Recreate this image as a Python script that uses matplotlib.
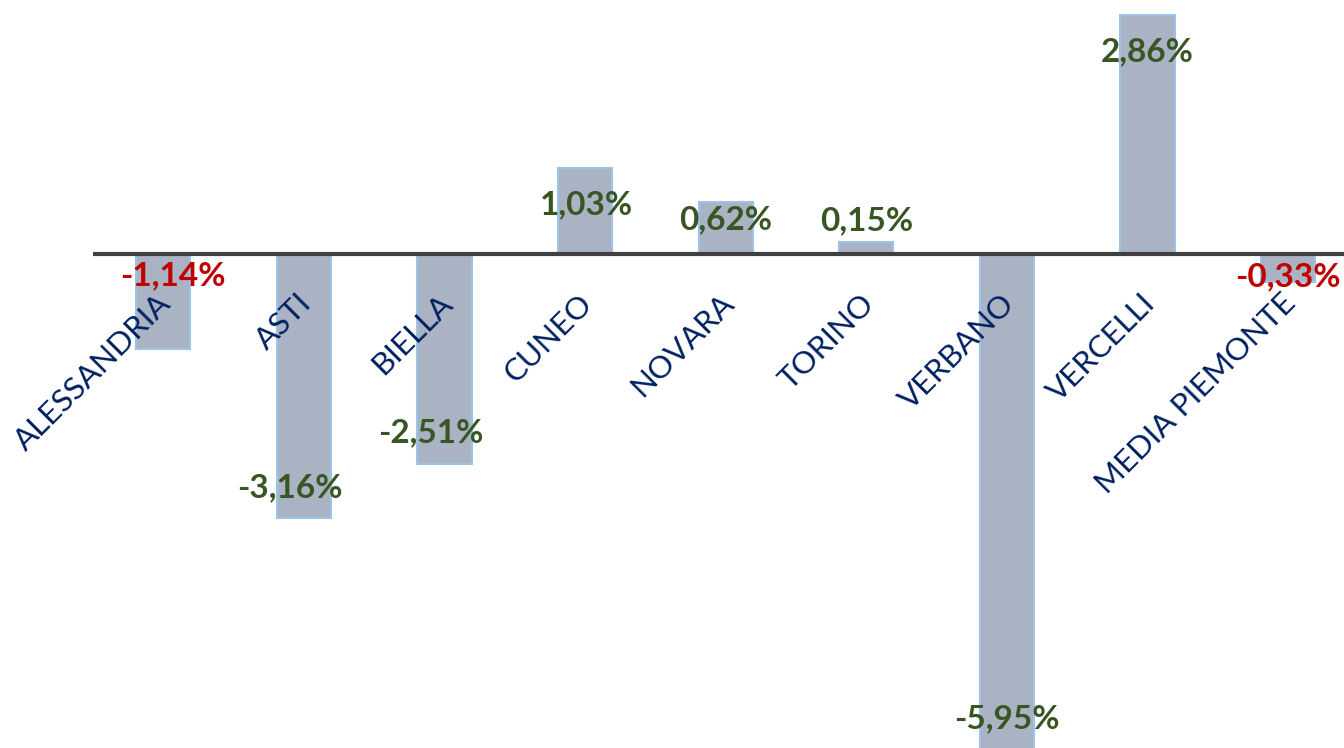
import matplotlib.pyplot as plt

province = ['ALESSANDRIA', 'ASTI', 'BIELLA', 'CUNEO', 'NOVARA', 'TORINO',
            'VERBANO', 'VERCELLI', 'MEDIA PIEMONTE']
variazione = [-1.14, -3.16, -2.51, 1.03, 0.62, 0.15, -5.95, 2.86, -0.33]
etichette = ['-1,14%', '-3,16%', '-2,51%', '1,03%', '0,62%', '0,15%',
             '-5,95%', '2,86%', '-0,33%']
colori_etichette = ['#C00000', '#375623', '#375623', '#375623', '#375623',
                    '#375623', '#375623', '#375623', '#C00000']
# spostamento etichette rispetto alla fine della barra (pixel)
spost = [(10, 74), (-14, 30), (-14, 31), (1, -37), (0, -18), (0, 21),
         (0, 33), (0, -37), (0, 5)]

plt.rcParams['font.family'] = ['Lato', 'DejaVu Sans']

fig = plt.figure(figsize=(13.44, 7.48), dpi=100)
ax = fig.add_axes([93 / 1344, 0, 1 - 93 / 1344, 1])

x = range(len(province))
ax.bar(x, variazione, width=0.385, color='#A9B3C3', edgecolor='#9DC3E6',
       linewidth=1.5, zorder=2)
ax.axhline(0, color='#404040', linewidth=3, zorder=3)

ax.set_xlim(-0.5, -0.5 + 1251 / 140.6)
ax.set_ylim(-5.91, 3.04)
ax.axis('off')

for i, v in enumerate(variazione):
    dx, dy = spost[i]
    ax.annotate(etichette[i], xy=(i, v), xytext=(dx * 0.72, dy * 0.72),
                textcoords='offset points', ha='center', va='center',
                fontsize=24, fontweight='bold', color=colori_etichette[i],
                annotation_clip=False, zorder=4)
    ax.annotate(province[i], xy=(i, 0), xytext=(-5, -25),
                textcoords='offset points', ha='right', va='top',
                rotation=45, rotation_mode='anchor', fontsize=22.5,
                color='#002060', annotation_clip=False, zorder=4)

fig.savefig('out.png', dpi=100)
